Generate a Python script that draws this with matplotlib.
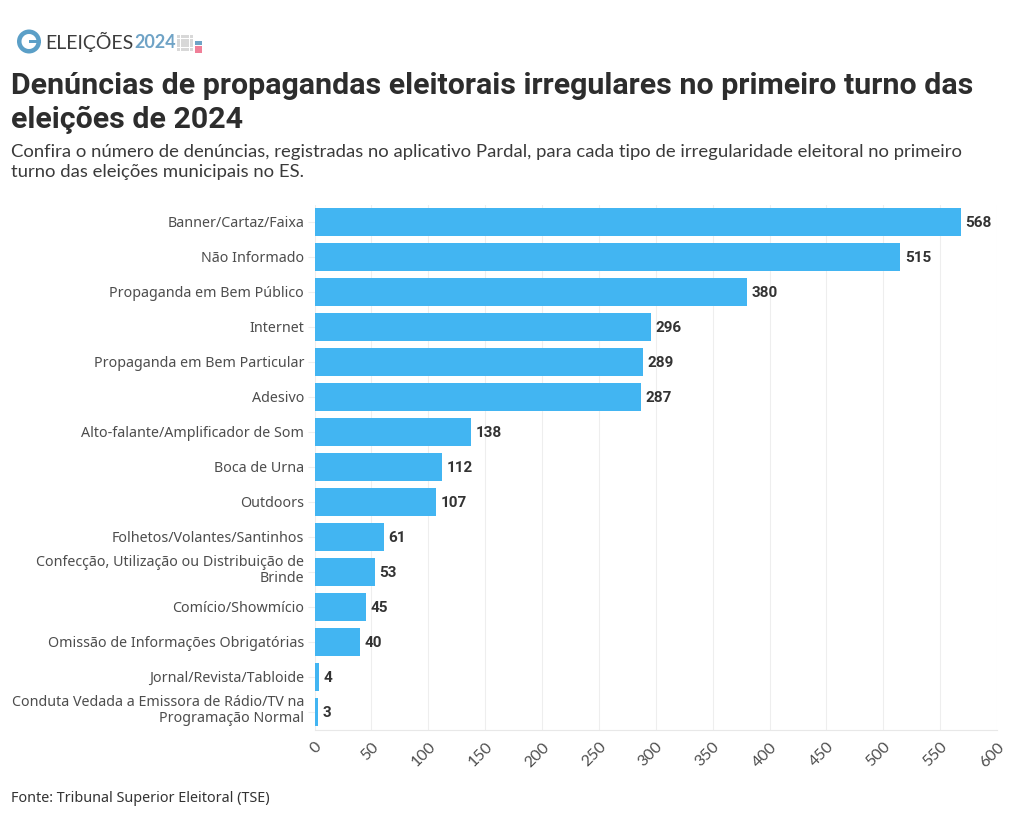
import matplotlib
matplotlib.use("Agg")
import matplotlib.pyplot as plt
from matplotlib.patches import Rectangle, Wedge

categories = ["Banner/Cartaz/Faixa", "Não Informado", "Propaganda em Bem Público", "Internet",
              "Propaganda em Bem Particular", "Adesivo", "Alto-falante/Amplificador de Som",
              "Boca de Urna", "Outdoors", "Folhetos/Volantes/Santinhos",
              "Confecção, Utilização ou Distribuição de\nBrinde", "Comício/Showmício",
              "Omissão de Informações Obrigatórias", "Jornal/Revista/Tabloide",
              "Conduta Vedada a Emissora de Rádio/TV na\nProgramação Normal"]
values = [568, 515, 380, 296, 289, 287, 138, 112, 107, 61, 53, 45, 40, 4, 3]
xticks = list(range(0, 601, 50))

W, H = 1020, 817
FONT = "Noto Sans"
BOLD = "Roboto"
plt.rcParams["font.family"] = [FONT, "DejaVu Sans"]
fig = plt.figure(figsize=(W / 100, H / 100), dpi=100, facecolor="white")
ax = fig.add_axes([314.5 / W, 1 - 729.5 / H, (997 - 314.5) / W, 525 / H])

pos = list(range(len(values)))
ax.barh(pos, values, height=0.8, color="#42b5f2", zorder=3)
ax.set_xlim(0, 600)
ax.set_ylim(len(values) - 0.5, -0.5)
ax.set_yticks(pos)
ax.set_yticklabels([])
for p, name in zip(pos, categories):
    dy = 3 if "\n" in name else 0.7
    ax.annotate(name, (0, p), xytext=(-7.5, dy), textcoords="offset points", ha="right",
                va="center_baseline", fontsize=10.28, color="#4d4d4d", linespacing=1.1,
                multialignment="right", annotation_clip=False)
ax.set_xticks(xticks)
ax.set_xticklabels([str(t) for t in xticks], fontsize=11.5, color="#4d4d4d", rotation=45,
                   family="Lato", ha="right", va="top", rotation_mode="anchor")
ax.tick_params(axis="y", length=5, width=0.8, color="#eeeeee", pad=2.5)
ax.tick_params(axis="x", length=0, pad=7.5)
ax.grid(axis="x", color="#eeeeee", linewidth=0.8, zorder=0)
for s in ("top", "right", "left"):
    ax.spines[s].set_visible(False)
ax.spines["bottom"].set_color("#e8e8e8")
ax.spines["bottom"].set_linewidth(0.8)
for p, v in zip(pos, values):
    ax.annotate(str(v), (v, p), xytext=(3.2, 0.7), textcoords="offset points", va="center_baseline",
                ha="left", fontsize=11, fontweight="bold", family=BOLD, color="#333333", zorder=4)


def px(x, y):
    return x / W, 1 - y / H


fig.text(*px(11, 86), "Denúncias de propagandas eleitorais irregulares no primeiro turno das",
         fontsize=21.85, fontweight="bold", family=BOLD, color="#2d2d2d", va="center")
fig.text(*px(11, 120), "eleições de 2024", fontsize=21.85, fontweight="bold", family=BOLD, color="#2d2d2d", va="center")
fig.text(*px(11, 152.5), "Confira o número de denúncias, registradas no aplicativo Pardal, para cada tipo de irregularidade eleitoral no primeiro",
         fontsize=13.3, color="#3a3a3a", va="center", family="Lato")
fig.text(*px(11, 172), "turno das eleições municipais no ES.", fontsize=13.3, color="#3a3a3a", va="center", family="Lato")
fig.text(*px(11, 799), "Fonte: Tribunal Superior Eleitoral (TSE)", fontsize=10.35, color="#333333", va="center")

# Logo
logo = fig.add_axes([0, 0, 1, 1], facecolor="none", zorder=5)
logo.set_xlim(0, W)
logo.set_ylim(H, 0)
logo.axis("off")
logo.add_patch(Wedge((29, 41.5), 12, 0, 360, width=4.5, color="#5b9fc7", lw=0))
logo.add_patch(Rectangle((29, 39.5), 12, 3.5, color="#5b9fc7", lw=0))
logo.text(45, 42, "ELEIÇÕES", fontsize=14, color="#3c3c3c", va="center", family="Lato")
logo.text(134, 42, "2024", fontsize=13, color="#6fa3c6", va="center", family="Lato", fontweight="bold")
for c in range(4):
    for r in range(4):
        logo.add_patch(Rectangle((177 + c * 4.2, 35 + r * 4.2), 3.4, 3.4, color="#d8d8d8", lw=0))
logo.add_patch(Rectangle((195, 41), 7, 3.5, color="#6fa3c6", lw=0))
logo.add_patch(Rectangle((195, 46), 7, 7, color="#f07f98", lw=0))

fig.savefig("out.png", dpi=100)
